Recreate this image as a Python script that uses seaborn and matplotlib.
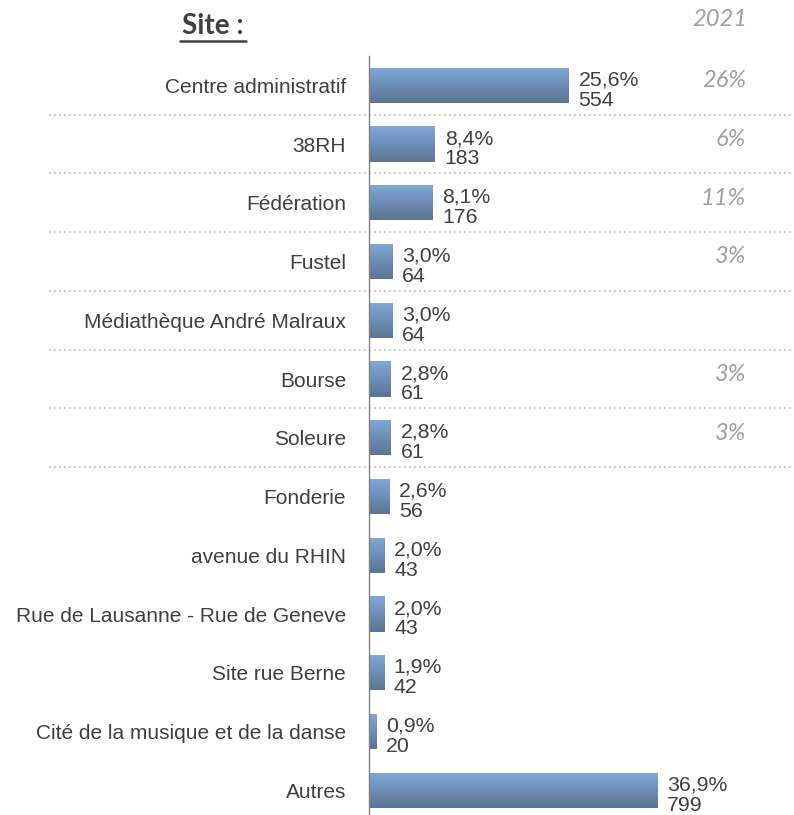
import numpy as np
import pandas as pd
import matplotlib
matplotlib.use("Agg")
import matplotlib.pyplot as plt
import matplotlib.transforms as mtransforms
from matplotlib.colors import LinearSegmentedColormap
import seaborn as sns

sites = ["Centre administratif", "38RH", "Fédération", "Fustel",
         "Médiathèque André Malraux", "Bourse", "Soleure", "Fonderie",
         "avenue du RHIN", "Rue de Lausanne - Rue de Geneve", "Site rue Berne",
         "Cité de la musique et de la danse", "Autres"]
counts = [554, 183, 176, 64, 64, 61, 61, 56, 43, 43, 42, 20, 799]
percents = ["25,6%", "8,4%", "8,1%", "3,0%", "3,0%", "2,8%", "2,8%", "2,6%",
            "2,0%", "2,0%", "1,9%", "0,9%", "36,9%"]
prev_2021 = ["26%", "6%", "11%", "3%", "", "3%", "3%", "", "", "", "", "", ""]
n_separators = 7

sns.set_theme(style="white")
plt.rcParams['font.family'] = ['Liberation Sans', 'DejaVu Sans']

df = pd.DataFrame({"site": sites, "count": counts})

fig = plt.figure(figsize=(7.94, 8.15), dpi=100)
ax = fig.add_axes([369/794, 0.0, 1100*0.3605/794, 759/815])

sns.barplot(data=df, y="site", x="count", ax=ax, width=0.6,
            color="#6f8fb8", orient="h")

# gradient fill for bars
cmap = LinearSegmentedColormap.from_list("g", ["#80a9d9", "#5b7393"])
grad = np.linspace(0, 1, 256).reshape(-1, 1)
for p in ax.patches:
    x0, y0 = p.get_x(), p.get_y()
    w, h = p.get_width(), p.get_height()
    p.set_facecolor("none")
    p.set_edgecolor("none")
    im = ax.imshow(grad, cmap=cmap, aspect="auto",
                   extent=(x0, x0 + w, y0 + h, y0), origin="upper", zorder=2)
    im.set_clip_path(p)

ax.set_xlim(0, 1100)
ax.set_ylim(12.42, -0.5)
ax.set_xlabel("")
ax.set_ylabel("")
ax.set_xticks([])
ax.tick_params(axis="y", length=0, pad=16.5, labelsize=15, labelcolor="#404040")
for s in ["top", "right", "bottom"]:
    ax.spines[s].set_visible(False)
ax.spines["left"].set_color("#808080")
ax.spines["left"].set_linewidth(1.0)

# value labels
for i, (c, pc) in enumerate(zip(counts, percents)):
    ax.annotate(f"{pc}\n{c}", xy=(c, i), xytext=(7, -3.3), textcoords="offset points",
                ha="left", va="center", fontsize=15.3, color="#404040",
                linespacing=1.08, zorder=3)

# 2021 column
tr_right = mtransforms.blended_transform_factory(fig.transFigure, ax.transData)
for i, v in enumerate(prev_2021):
    if v:
        ax.text(746/794, i - 0.08, v, transform=tr_right, ha="right", va="center",
                fontsize=17, color="#a0a0a0", style="italic", family="Lato")

# dotted separators
for k in range(n_separators):
    y = k + 0.5
    ax.plot([49/794, 1.0], [y, y], transform=tr_right, clip_on=False,
            color="#bdbdbd", linewidth=1.2, linestyle=(0, (1, 2)), zorder=1)

fig.text(213/794, 1 - 26/815, "Site :", ha="center", va="center",
         fontsize=20, fontweight="bold", color="#404040", family="Lato")
# underline
fig.add_artist(plt.Line2D([180/794, 246/794], [1 - 41/815, 1 - 41/815],
                          color="#404040", linewidth=1.8))
fig.text(747/794, 1 - 20/815, "2021", ha="right", va="center",
         fontsize=17, color="#a0a0a0", style="italic", family="Lato")

fig.savefig("out.png", dpi=100)
